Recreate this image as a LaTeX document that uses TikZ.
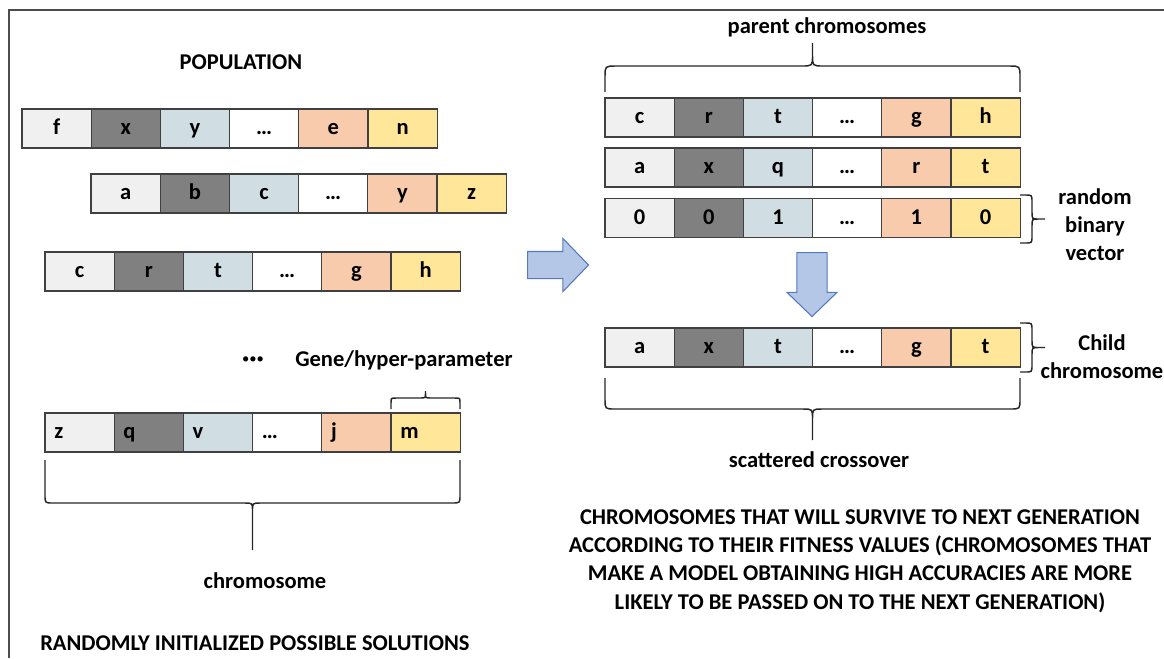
\documentclass[tikz,border=0pt]{standalone}
\usepackage{fontspec}
\setmainfont{Carlito}
\usetikzlibrary{shapes.arrows}

\definecolor{gene1}{HTML}{F0F0F0}
\definecolor{gene2}{HTML}{808080}
\definecolor{gene3}{HTML}{D0DEE4}
\definecolor{gene4}{HTML}{FFFFFF}
\definecolor{gene5}{HTML}{F8CBAD}
\definecolor{gene6}{HTML}{FFE699}
\definecolor{arrfill}{HTML}{B4C7E7}
\definecolor{arrline}{HTML}{5479BE}

% horizontal brace: x1, x2, y of ends, y of bar, y of tip, corner radius
\newcommand{\hbrace}[6]{%
  \pgfmathsetmacro{\brM}{(#1+#2)/2}%
  \pgfmathsetmacro{\brD}{(#5>#4) ? #6 : -#6}%
  \draw[brc] (#1,#3) -- (#1,#4-\brD) .. controls (#1,#4) .. (#1+#6,#4)
    -- (\brM-#6,#4) .. controls (\brM,#4) .. (\brM,#4+\brD) -- (\brM,#5)
    (#2,#3) -- (#2,#4-\brD) .. controls (#2,#4) .. (#2-#6,#4)
    -- (\brM+#6,#4) .. controls (\brM,#4) .. (\brM,#4+\brD);}
% vertical brace: y1, y2, x of ends, x of bar, x of tip, corner radius
\newcommand{\vbrace}[6]{%
  \pgfmathsetmacro{\brM}{(#1+#2)/2}%
  \pgfmathsetmacro{\brD}{(#5>#4) ? #6 : -#6}%
  \draw[brc] (#3,#1) -- (#4-\brD,#1) .. controls (#4,#1) .. (#4,#1+#6)
    -- (#4,\brM-#6) .. controls (#4,\brM) .. (#4+\brD,\brM) -- (#5,\brM)
    (#3,#2) -- (#4-\brD,#2) .. controls (#4,#2) .. (#4,#2-#6)
    -- (#4,\brM+#6) .. controls (#4,\brM) .. (#4+\brD,\brM);}

\begin{document}
\begin{tikzpicture}[
    x=0.75pt, y=-0.75pt,
    font=\bfseries\fontsize{16.9}{21.2}\selectfont,
    cell/.style={draw=black!75, line width=0.9pt, minimum width=51.9pt,
                 minimum height=29.25pt, inner sep=0pt, text height=9pt, text depth=0pt},
    lcell/.style={cell, text width=38pt, inner xsep=6.95pt, align=left},
    brc/.style={line width=1.1pt, black!85},
    barrow/.style={single arrow, draw=arrline, fill=arrfill, line width=0.8pt,
                   inner xsep=0pt, single arrow tip angle=92, anchor=tail},
    lbl/.style={align=center, inner sep=0pt}
]
\useasboundingbox (0,0) rectangle (1164,658);
\draw[black!70, line width=1.5pt] (9,658) -- (9,10) -- (1164,10);

\def\w{69.2}

% ===== POPULATION =====
\node[lbl] (poptitle) at (241,62) {POPULATION};

\foreach \g [count=\i] in {f,x,y,…,e,n}
  \node[cell, fill=gene\i] (popA\i) at (22+\w*\i-\w/2,128.5) {\g};
\foreach \g [count=\i] in {a,b,c,…,y,z}
  \node[cell, fill=gene\i] (popB\i) at (91+\w*\i-\w/2,193.5) {\g};
\foreach \g [count=\i] in {c,r,t,…,g,h}
  \node[cell, fill=gene\i] (popC\i) at (45+\w*\i-\w/2,271.5) {\g};
\foreach \g [count=\i] in {z,q,v,…,j,m}
  \node[lcell, fill=gene\i] (popD\i) at (45+\w*\i-\w/2,432.5) {\g};

\node[lbl, font=\fontsize{11}{11}\selectfont] (dots) at (253,360) {•••};
\node[lbl, anchor=west] (genelbl) at (295,360) {Gene/hyper-parameter};
\hbrace{391}{460}{409}{398}{391}{5}
\hbrace{45}{460}{460}{503}{550}{8}
\node[lbl] (chromlbl) at (265,581) {chromosome};
\node[lbl, anchor=west] (initlbl) at (40,643) {RANDOMLY INITIALIZED POSSIBLE SOLUTIONS};

% ===== CROSSOVER =====
\node[barrow, minimum height=45.75pt, inner ysep=9.75pt,
      single arrow head extend=9.75pt] (toright) at (527,265) {};

\node[lbl] (parentlbl) at (827,27) {parent chromosomes};
\hbrace{605}{1020}{92}{66}{43}{11}

\foreach \g [count=\i] in {c,r,t,…,g,h}
  \node[cell, fill=gene\i] (parA\i) at (605+\w*\i-\w/2,117.5) {\g};
\foreach \g [count=\i] in {a,x,q,…,r,t}
  \node[cell, fill=gene\i] (parB\i) at (605+\w*\i-\w/2,167.5) {\g};
\foreach \g [count=\i] in {0,0,1,…,1,0}
  \node[cell, fill=gene\i] (mask\i) at (605+\w*\i-\w/2,218) {\g};

\vbrace{195}{243}{1020}{1032}{1045}{7}
\node[lbl] (masklbl) at (1095,224.5) {random\\binary\\vector};

\node[barrow, rotate=-90, minimum height=48pt, inner ysep=10.9pt,
      single arrow head extend=7.5pt] (todown) at (812,252) {};

\foreach \g [count=\i] in {a,x,t,…,g,t}
  \node[cell, fill=gene\i] (child\i) at (605+\w*\i-\w/2,347.5) {\g};

\vbrace{323}{372}{1020}{1032}{1045}{7}
\node[lbl] (childlbl) at (1102,357) {Child\\chromosome};

\hbrace{605}{1020}{378}{409}{440}{10}
\node[lbl] (scatlbl) at (819,460) {scattered crossover};

\node[lbl] (survlbl) at (860,561) {CHROMOSOMES THAT WILL SURVIVE TO NEXT GENERATION\\
  ACCORDING TO THEIR FITNESS VALUES (CHROMOSOMES THAT\\
  MAKE A MODEL OBTAINING HIGH ACCURACIES ARE MORE\\
  LIKELY TO BE PASSED ON TO THE NEXT GENERATION)};
\end{tikzpicture}
\end{document}
